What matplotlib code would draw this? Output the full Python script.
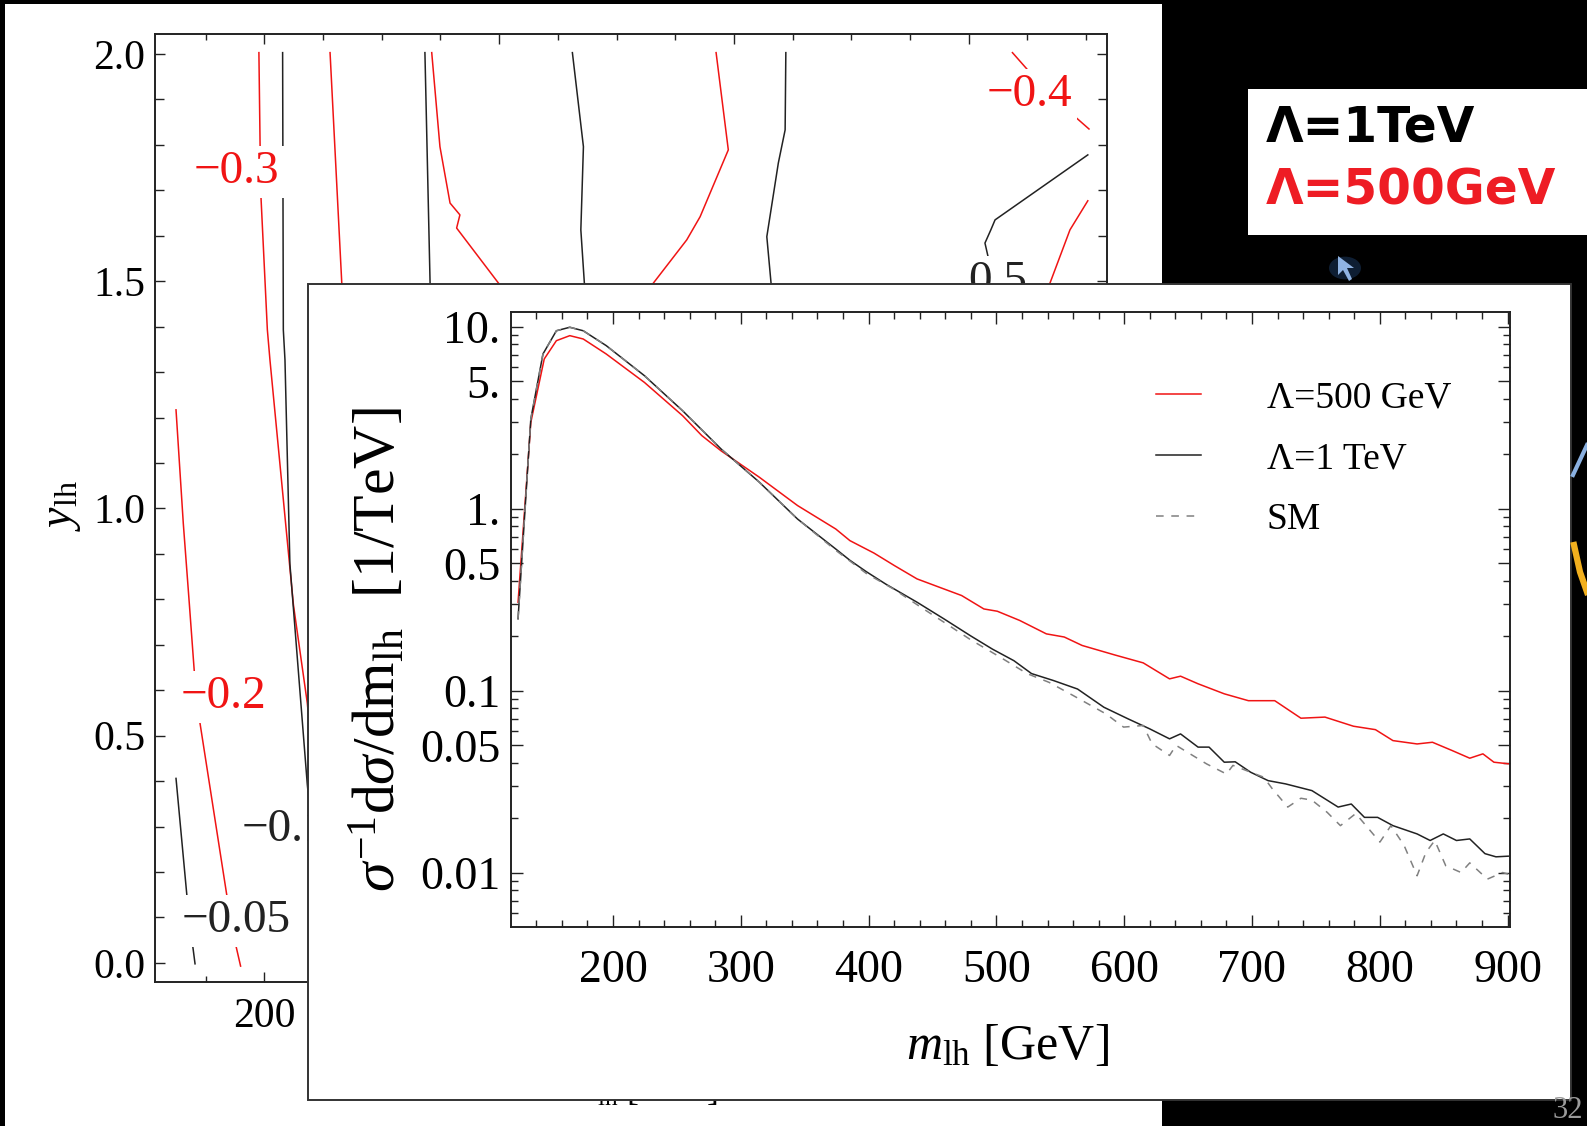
import matplotlib
matplotlib.use("Agg")
import matplotlib.pyplot as plt
from matplotlib.patches import Rectangle, Polygon, Circle
from matplotlib.lines import Line2D
from matplotlib.ticker import MultipleLocator, LogLocator, NullFormatter

plt.rcParams['font.family'] = ['Liberation Serif', 'DejaVu Serif']
plt.rcParams['mathtext.fontset'] = 'custom'
plt.rcParams['mathtext.rm'] = 'Liberation Serif'
plt.rcParams['mathtext.it'] = 'Liberation Serif:italic'

RED = '#f01414'
BLK = '#222222'
GRY = '#808080'

# ---- normalised m_lh distributions (inset) ----
m_500 = [125.7, 135.7, 146.2, 155.7, 166.2, 176.7, 194.7, 224.6, 254.5, 269.5, 284.5, 314.4,
         344.4, 374.3, 385.4, 404.2, 420.3, 437.9, 455.3, 472.8, 490.2, 500.7, 518.2, 539.1,
         553.1, 567.1, 592.6, 614.9, 635.5, 644.1, 657.8, 678.3, 697.2, 717.8, 738.3, 757.1,
         779.4, 796.6, 810.3, 829.2, 841.2, 856.7, 870.4, 880.7, 889.3, 900.5]
v_500 = [0.306, 2.98, 6.65, 8.38, 8.93, 8.56, 7.08, 4.94, 3.24, 2.52, 2.08, 1.49,
         1.04, 0.773, 0.667, 0.570, 0.486, 0.411, 0.37, 0.333, 0.281, 0.273, 0.243, 0.205,
         0.197, 0.177, 0.157, 0.142, 0.116, 0.12, 0.109, 0.096, 0.088, 0.088, 0.0705, 0.0715,
         0.0637, 0.061, 0.0531, 0.0509, 0.052, 0.0468, 0.0425, 0.0449, 0.0404, 0.0396]

m_1tev = [125.7, 135.7, 145.2, 155.7, 166.2, 176.7, 194.7, 224.6, 254.5, 284.5, 314.4, 344.4,
          374.3, 385.4, 398.3, 413.4, 437.9, 458.9, 479.8, 496.9, 513.7, 527.5, 544.6, 563.5,
          584.1, 602.9, 620.0, 635.5, 644.1, 657.8, 666.4, 678.3, 686.9, 698.9, 712.6, 726.3,
          746.9, 767.4, 777.7, 788.0, 798.3, 810.3, 829.2, 839.4, 849.7, 860.0, 870.4, 882.3,
          890.9, 900.5]
v_1tev = [0.248, 3.11, 7.08, 9.5, 9.93, 9.5, 7.87, 5.38, 3.45, 2.13, 1.40, 0.877,
          0.60, 0.52, 0.45, 0.385, 0.306, 0.248, 0.2, 0.169, 0.146, 0.124, 0.1136, 0.102,
          0.081, 0.070, 0.0616, 0.0543, 0.0578, 0.0489, 0.0489, 0.0404, 0.0406, 0.0356, 0.032, 0.0307,
          0.0282, 0.0229, 0.0238, 0.0201, 0.0201, 0.0181, 0.0163, 0.015, 0.0163, 0.015, 0.0153, 0.0127,
          0.0122, 0.0123]

m_sm = [125.7, 135.7, 145.2, 155.7, 166.2, 176.7, 194.7, 224.6, 254.5, 284.5, 314.4, 344.4,
        374.3, 398.3, 420.0, 440.0, 460.0, 480.0, 503.4, 524.0, 541.2, 560.0, 585.8, 599.5,
        614.9, 621.8, 635.5, 640.6, 664.6, 680.0, 685.1, 709.2, 716.0, 728.0, 738.3, 746.9,
        758.9, 769.2, 781.2, 800.1, 808.7, 819.0, 829.2, 836.1, 843.0, 851.6, 863.6, 870.4,
        884.2, 896.1, 900.5]
v_sm = [0.248, 3.11, 7.08, 9.5, 9.93, 9.5, 7.87, 5.38, 3.45, 2.13, 1.40, 0.877,
        0.59, 0.44, 0.36, 0.29, 0.235, 0.19, 0.152, 0.124, 0.111, 0.094, 0.0744, 0.063,
        0.0643, 0.051, 0.044, 0.050, 0.0395, 0.0348, 0.0388, 0.0334, 0.0288, 0.0229, 0.0256, 0.025,
        0.0214, 0.0181, 0.0211, 0.0147, 0.0181, 0.0141, 0.0096, 0.0129, 0.015, 0.0109, 0.01, 0.0113,
        0.0092, 0.01, 0.0098]

y_ticks_inset = [0.01, 0.05, 0.1, 0.5, 1, 5, 10]
y_ticklabels_inset = ['0.01', '0.05', '0.1', '0.5', '1.', '5.', '10.']
x_ticks_inset = [200, 300, 400, 500, 600, 700, 800, 900]

# ---- contour lines of the (m_lh, y_lh) map behind the inset ----
contours = [
    # (colour, m_lh values, y_lh values)
    (RED, [162.4, 165.5, 168.1, 170.2, 172.6, 184.0, 187.9, 189.9],
          [1.217, 0.967, 0.788, 0.640, 0.528, 0.150, 0.038, -0.007]),
    (BLK, [162.4, 167.0, 169.5, 170.5], [0.406, 0.150, 0.038, -0.002]),
    (RED, [197.7, 198.2, 198.6, 201.3, 202.4, 212.4, 218.3, 228.0],
          [2.003, 1.800, 1.683, 1.393, 1.327, 0.788, 0.572, 0.05]),
    (BLK, [207.8, 208.1, 208.8, 210.9, 218.3, 226.0], [2.003, 1.393, 1.327, 0.878, 0.393, 0.0]),
    (RED, [228.0, 233.0, 234.4], [2.003, 1.495, 1.415]),
    (BLK, [268.4, 270.6, 271.0], [2.003, 1.495, 1.415]),
    (RED, [271.3, 274.8, 279.1, 283.3, 281.9, 299.7, 308.9],
          [2.003, 1.796, 1.672, 1.646, 1.617, 1.496, 1.437]),
    (BLK, [331.2, 335.9, 334.8, 336.3, 336.6], [2.003, 1.796, 1.613, 1.496, 1.415]),
    (RED, [392.4, 397.6, 385.6, 379.9, 365.7, 355.7], [2.003, 1.789, 1.642, 1.591, 1.496, 1.437]),
    (BLK, [422.1, 421.8, 418.9, 414.0, 415.8, 416.2], [2.003, 1.833, 1.760, 1.598, 1.496, 1.415]),
    (RED, [518.6, 533.8, 551.2], [2.003, 1.914, 1.835]),
    (BLK, [550.7, 511.2, 509.4, 506.9, 508.4, 509.9], [1.778, 1.635, 1.613, 1.584, 1.550, 1.481]),
    (RED, [550.7, 543.1, 534.6, 530.4], [1.677, 1.613, 1.496, 1.415]),
]

contour_labels = ['\u22120.3', '\u22120.4', '\u22120.2', '\u22120.05', '\u22120.1', '0.5']
label_m = [188.0, 525.7, 182.8, 188.2, 190.4, 499.7]
label_y = [1.741, 1.910, 0.585, 0.092, 0.293, 1.498]
label_colors = [RED, RED, RED, BLK, BLK, BLK]
label_ha = ['center', 'center', 'center', 'center', 'left', 'left']

W, H = 1587, 1126
fig = plt.figure(figsize=(W / 100, H / 100), dpi=100, facecolor='black')


def fx(px):
    return px / W


def fy(py):
    return 1 - py / H


def frect(x0, y0, x1, y1, **kw):
    # rectangle given by pixel corners (top-left, bottom-right)
    r = Rectangle((fx(x0), fy(y1)), fx(x1) - fx(x0), (y1 - y0) / H,
                  transform=fig.transFigure, **kw)
    fig.add_artist(r)
    return r


# white sheet behind the contour plot
frect(5, 4, 1162, 1126, facecolor='white', edgecolor='none', zorder=0.1)

# ---------------- background contour plot ----------------
ax0 = fig.add_axes([fx(155), fy(982), fx(1107.3) - fx(155), (982 - 34) / H])
ax0.set_zorder(0.5)
for col, mm, yy in contours:
    ax0.plot(mm, yy, color=col, lw=1.1)
for t, m, y, c, ha in zip(contour_labels, label_m, label_y, label_colors, label_ha):
    ax0.text(m, y, t, color=c, fontsize=34, ha=ha, va='center', zorder=5,
             bbox=dict(boxstyle='square,pad=0.1', fc='white', ec='none'))
ax0.set_xlim(153.45, 559.0)
ax0.set_ylim(-0.042, 2.044)
ax0.set_xticks([200, 300, 400, 500])
ax0.set_xticklabels(['200', '', '', ''])   # the others sit under the inset
ax0.xaxis.set_minor_locator(MultipleLocator(25))
ax0.set_yticks([0.0, 0.5, 1.0, 1.5, 2.0])
ax0.set_yticklabels(['0.0', '0.5', '1.0', '1.5', '2.0'])
ax0.yaxis.set_minor_locator(MultipleLocator(0.1))
ax0.tick_params(which='both', direction='in', top=True, right=True, labelsize=30,
                color=BLK, width=1.0)
ax0.tick_params(which='major', length=7.5)
ax0.tick_params(axis='x', which='minor', length=4.5)
ax0.tick_params(axis='y', which='minor', length=6.5)
ax0.tick_params(axis='x', pad=11)
ax0.tick_params(axis='y', pad=7)
for s in ax0.spines.values():
    s.set_linewidth(1.4)
    s.set_color(BLK)
fig.text(fx(62), fy(506), r'$y_{\mathrm{lh}}$', rotation=90, fontsize=33,
         ha='center', va='center', zorder=0.6)
fig.text(fx(645), fy(1101), r'$m_{\mathrm{lh}}$ [GeV]', fontsize=26,
         ha='center', va='baseline', zorder=0.6)

# ---------------- inset with the distributions ----------------
frect(308, 284, 1571, 1100, facecolor='white', edgecolor='#333333', lw=1.4, zorder=1)

ax1 = fig.add_axes([fx(511.4), fy(927.3), fx(1509.5) - fx(511.4), (927.3 - 312.3) / H])
ax1.set_zorder(2)
ax1.plot(m_500, v_500, color=RED, lw=1.1, label='\u039b=500 GeV')
ax1.plot(m_1tev, v_1tev, color=BLK, lw=1.1, label='\u039b=1 TeV')
ax1.plot(m_sm, v_sm, color=GRY, lw=1.1, ls=(0, (5, 5)), label='SM')
ax1.set_yscale('log')
ax1.set_xlim(120.5, 901.5)
ax1.set_ylim(0.005, 12)
ax1.set_yticks(y_ticks_inset)
ax1.set_yticklabels(y_ticklabels_inset)
ax1.yaxis.set_minor_locator(LogLocator(base=10, subs=(2, 3, 4, 6, 7, 8, 9)))
ax1.yaxis.set_minor_formatter(NullFormatter())
ax1.set_xticks(x_ticks_inset)
ax1.set_xticklabels([str(v) for v in x_ticks_inset])
ax1.xaxis.set_minor_locator(MultipleLocator(20))
ax1.tick_params(which='both', direction='in', top=True, right=True, labelsize=33,
                color=BLK, width=1.0)
ax1.tick_params(which='major', length=8.5)
ax1.tick_params(which='minor', length=4.8)
ax1.tick_params(axis='x', pad=16)
ax1.tick_params(axis='y', pad=8)
for s in ax1.spines.values():
    s.set_linewidth(1.4)
    s.set_color(BLK)

ax1.legend(loc='upper left', bbox_to_anchor=(fx(1156), fy(381)), bbox_transform=fig.transFigure,
           frameon=False, fontsize=27, handlelength=1.2, handletextpad=1.75,
           labelspacing=0.7, borderpad=0, borderaxespad=0)

fig.text(fx(378), fy(650), r'$\sigma^{-1}\mathrm{d}\sigma/\mathrm{dm}_{\mathrm{lh}}$  [1/TeV]',
         rotation=90, fontsize=43, ha='center', va='center', zorder=3)
fig.text(fx(1007), fy(1047), r'$m_{\mathrm{lh}}$ [GeV]', fontsize=36,
         ha='center', va='center', zorder=3)

# ---------------- slide decorations ----------------
frect(1248, 89, 1600, 235, facecolor='white', edgecolor='none', zorder=1)
fig.text(fx(1266), fy(127), '\u039b=1TeV', color='black', fontsize=35, fontweight='bold',
         family='DejaVu Sans', ha='left', va='center', zorder=3)
fig.text(fx(1266), fy(191), '\u039b=500GeV', color='#ee1c24', fontsize=35, fontweight='bold',
         family='DejaVu Sans', ha='left', va='center', zorder=3)

# mouse pointer
fig.add_artist(Circle((fx(1345), fy(268)), 16 / W, transform=fig.transFigure,
                      facecolor='#1d3d66', alpha=0.5, edgecolor='none', zorder=1))
ptr = [(1338, 256), (1338, 275), (1343, 270), (1349, 281), (1352, 279), (1347, 268), (1354, 268)]
fig.add_artist(Polygon([(fx(px), fy(py)) for px, py in ptr], closed=True,
                       transform=fig.transFigure, facecolor='#8fb3e3', edgecolor='none', zorder=1.2))

# pieces of the neighbouring drawings at the right edge
fig.add_artist(Line2D([fx(1573), fx(1587)], [fy(475), fy(445)], transform=fig.transFigure,
                      color='#8ab0e0', lw=3, zorder=1.2))
fig.add_artist(Line2D([fx(1574), fx(1580), fx(1587)], [fy(545), fy(572), fy(592)],
                      transform=fig.transFigure, color='#f2b01e', lw=4.5, zorder=1.2))
fig.text(fx(1553), fy(1110), '32', color='#9a9a9a', fontsize=22, ha='left', va='center', zorder=3)

fig.savefig('out.png', dpi=100, facecolor='black')
